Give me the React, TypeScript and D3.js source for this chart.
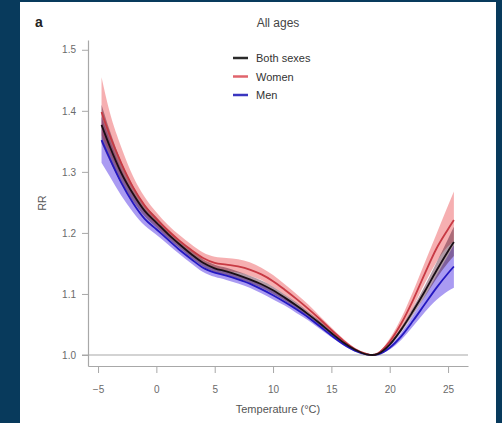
import React, { useEffect, useRef } from 'react';
import * as d3 from 'd3';

// temperature grid (°C)
const temps = [-4.7, -4, -3, -2, -1, 0, 1, 2, 3, 4, 5, 6, 7, 8, 9, 10, 11, 12, 13, 14, 15, 16, 17, 18, 18.5, 19, 20, 21, 22, 23, 24, 25, 25.5];

// Both sexes
const bothRR = [1.377, 1.342, 1.298, 1.264, 1.236, 1.217, 1.198, 1.181, 1.165, 1.151, 1.142, 1.137, 1.131, 1.124, 1.116, 1.106, 1.094, 1.081, 1.067, 1.052, 1.036, 1.021, 1.009, 1.001, 1.0, 1.002, 1.017, 1.042, 1.072, 1.104, 1.138, 1.17, 1.185];
const bothLow = [1.347, 1.318, 1.281, 1.252, 1.227, 1.209, 1.191, 1.175, 1.159, 1.145, 1.136, 1.131, 1.125, 1.118, 1.11, 1.1, 1.089, 1.076, 1.063, 1.048, 1.033, 1.019, 1.008, 1.001, 1.0, 1.002, 1.015, 1.038, 1.066, 1.095, 1.125, 1.151, 1.162];
const bothHigh = [1.41, 1.368, 1.316, 1.277, 1.246, 1.226, 1.205, 1.187, 1.171, 1.157, 1.148, 1.143, 1.137, 1.13, 1.122, 1.112, 1.099, 1.086, 1.071, 1.056, 1.039, 1.023, 1.01, 1.001, 1.0, 1.002, 1.019, 1.046, 1.078, 1.113, 1.151, 1.19, 1.21];

// Women
const womenRR = [1.398, 1.36, 1.314, 1.275, 1.245, 1.223, 1.204, 1.187, 1.172, 1.159, 1.151, 1.148, 1.145, 1.14, 1.132, 1.121, 1.107, 1.092, 1.076, 1.059, 1.041, 1.024, 1.01, 1.002, 1.0, 1.003, 1.022, 1.052, 1.09, 1.133, 1.174, 1.206, 1.221];
const womenLow = [1.36, 1.332, 1.293, 1.26, 1.233, 1.213, 1.195, 1.179, 1.164, 1.151, 1.142, 1.138, 1.135, 1.13, 1.123, 1.112, 1.099, 1.085, 1.07, 1.054, 1.037, 1.021, 1.008, 1.001, 1.0, 1.002, 1.018, 1.044, 1.078, 1.117, 1.152, 1.178, 1.186];
const womenHigh = [1.455, 1.398, 1.34, 1.293, 1.259, 1.234, 1.213, 1.196, 1.181, 1.168, 1.161, 1.159, 1.157, 1.152, 1.143, 1.131, 1.116, 1.1, 1.083, 1.064, 1.045, 1.027, 1.012, 1.003, 1.0, 1.004, 1.027, 1.061, 1.104, 1.151, 1.198, 1.245, 1.268];

// Men
const menRR = [1.352, 1.322, 1.282, 1.249, 1.223, 1.206, 1.189, 1.172, 1.157, 1.143, 1.135, 1.13, 1.124, 1.117, 1.108, 1.098, 1.087, 1.075, 1.062, 1.047, 1.032, 1.018, 1.007, 1.001, 1.0, 1.001, 1.012, 1.031, 1.056, 1.083, 1.11, 1.134, 1.145];
const menLow = [1.315, 1.293, 1.261, 1.234, 1.212, 1.197, 1.181, 1.165, 1.15, 1.136, 1.128, 1.123, 1.117, 1.11, 1.101, 1.091, 1.081, 1.069, 1.057, 1.043, 1.029, 1.016, 1.006, 1.001, 1.0, 1.001, 1.009, 1.025, 1.047, 1.07, 1.09, 1.105, 1.11];
const menHigh = [1.39, 1.352, 1.304, 1.265, 1.235, 1.216, 1.197, 1.179, 1.164, 1.15, 1.142, 1.137, 1.131, 1.124, 1.115, 1.105, 1.093, 1.081, 1.067, 1.051, 1.035, 1.02, 1.008, 1.001, 1.0, 1.001, 1.015, 1.037, 1.065, 1.096, 1.13, 1.163, 1.18];

const xTicks = [-5, 0, 5, 10, 15, 20, 25];
const yTicks = [1.0, 1.1, 1.2, 1.3, 1.4, 1.5];
const legendLabels = ['Both sexes', 'Women', 'Men'];

const FONT = 'Liberation Sans, Arial, sans-serif';

const App = () => {
  const svgRef = useRef<SVGSVGElement>(null);

  useEffect(() => {
    if (!svgRef.current) return;
    const svg = d3.select(svgRef.current);
    svg.selectAll('*').remove();

    // background + panel
    svg.append('rect').attr('width', 502).attr('height', 423).attr('fill', '#083a5c');
    svg.append('rect').attr('x', 20).attr('y', 2).attr('width', 476).attr('height', 421).attr('fill', '#fff');

    const x = d3.scaleLinear().domain([-5.86, 26.71]).range([88, 468]);
    const y = d3.scaleLinear().domain([0.982, 1.516]).range([366, 40]);

    const series = [
      { key: 'men', rr: menRR, lo: menLow, hi: menHigh, band: 'rgba(85,55,230,0.5)', line: '#2418c0' },
      { key: 'women', rr: womenRR, lo: womenLow, hi: womenHigh, band: 'rgba(238,95,100,0.5)', line: '#c83a44' },
      { key: 'both', rr: bothRR, lo: bothLow, hi: bothHigh, band: 'rgba(70,15,40,0.42)', line: '#1a0f16' },
    ];

    // reference line at RR = 1
    svg.append('line')
      .attr('x1', 82).attr('x2', 468)
      .attr('y1', y(1)).attr('y2', y(1))
      .attr('stroke', '#a8a8a8').attr('stroke-width', 1.2);

    const area = d3.area<number>()
      .x((_, i) => x(temps[i]))
      .curve(d3.curveMonotoneX);

    const plot = svg.append('g');
    series.forEach(s => {
      plot.append('path')
        .attr('d', area.y0((_, i) => y(s.lo[i])).y1((_, i) => y(s.hi[i]))(s.rr) || '')
        .attr('fill', s.band);
    });

    const line = d3.line<number>()
      .x((_, i) => x(temps[i]))
      .y(d => y(d))
      .curve(d3.curveMonotoneX);

    series.forEach(s => {
      plot.append('path')
        .attr('d', line(s.rr) || '')
        .attr('fill', 'none')
        .attr('stroke', s.line)
        .attr('stroke-width', 1.8);
    });

    // axes
    const xAxis = svg.append('g')
      .attr('transform', 'translate(0,366)')
      .call(d3.axisBottom(x).tickValues(xTicks).tickSize(7).tickPadding(13).tickSizeOuter(0));
    const yAxis = svg.append('g')
      .attr('transform', 'translate(88,0)')
      .call(d3.axisLeft(y).tickValues(yTicks).tickSize(6).tickPadding(6).tickSizeOuter(0).tickFormat(d3.format('.1f')));

    [xAxis, yAxis].forEach(a => {
      a.select('.domain').attr('stroke', '#a8a8a8').attr('stroke-width', 1.2);
      a.selectAll('.tick line').attr('stroke', '#a8a8a8');
      a.selectAll('.tick text')
        .attr('fill', '#6a6a6a')
        .attr('font-size', 10)
        .attr('font-family', FONT);
    });

    // texts
    svg.append('text').attr('x', 35).attr('y', 27).text('a')
      .attr('font-family', FONT).attr('font-weight', 'bold').attr('font-size', 14).attr('fill', '#222');
    svg.append('text').attr('x', 278).attr('y', 27).attr('text-anchor', 'middle').text('All ages')
      .attr('font-family', FONT).attr('font-size', 12).attr('fill', '#444');
    svg.append('text').attr('x', 278).attr('y', 413).attr('text-anchor', 'middle').text('Temperature (°C)')
      .attr('font-family', FONT).attr('font-size', 11).attr('fill', '#555');
    svg.append('text')
      .attr('transform', 'translate(46,203) rotate(-90)')
      .attr('text-anchor', 'middle').text('RR')
      .attr('font-family', FONT).attr('font-size', 10.5).attr('fill', '#555');

    // legend
    const legendColors = ['#2a2a2a', '#e0646c', '#3a36c0'];
    const legend = svg.append('g').attr('transform', 'translate(233,58)');
    legendLabels.forEach((label, i) => {
      const row = legend.append('g').attr('transform', `translate(0,${i * 18.5})`);
      row.append('line').attr('x1', 0).attr('x2', 15).attr('y1', 0).attr('y2', 0)
        .attr('stroke', legendColors[i]).attr('stroke-width', 2.5);
      row.append('text').attr('x', 23).attr('y', 4).text(label)
        .attr('font-family', FONT).attr('font-size', 11).attr('fill', '#333');
    });
  }, []);

  return (
    <div style={{ position: 'fixed', left: 0, top: 0 }}>
      <svg ref={svgRef} width={502} height={423} style={{ display: 'block' }} />
    </div>
  );
};

export default App;
